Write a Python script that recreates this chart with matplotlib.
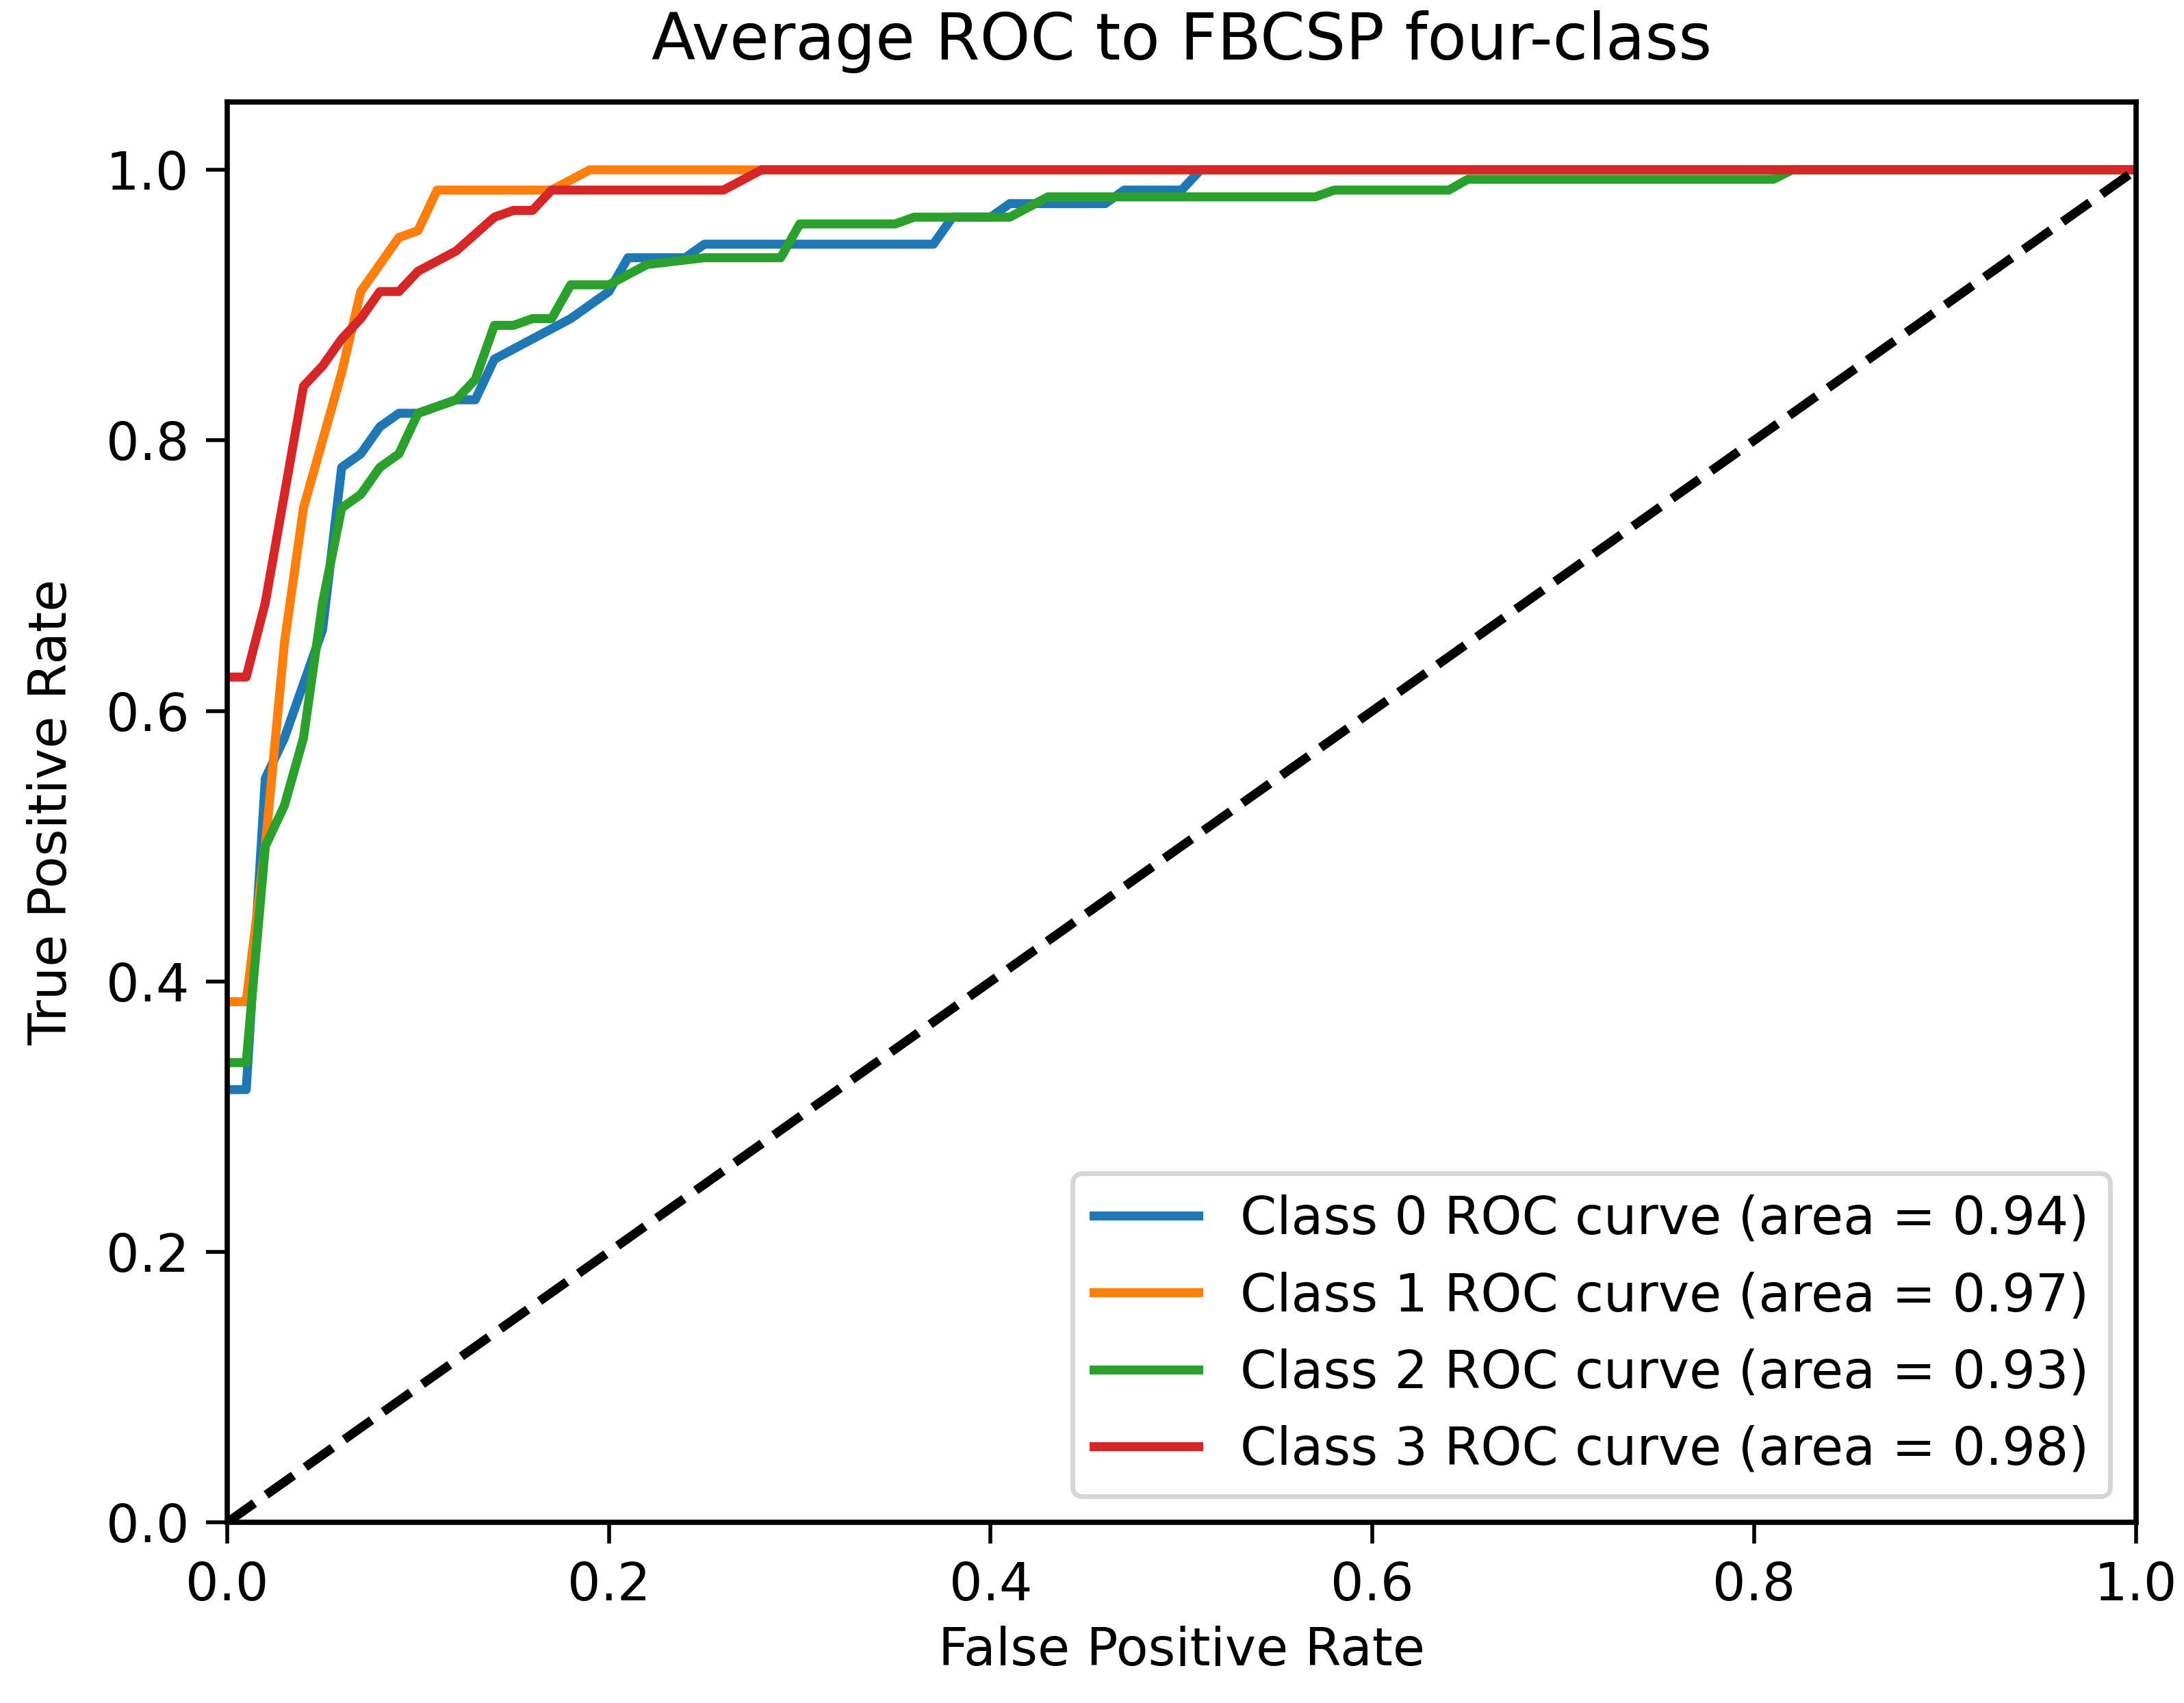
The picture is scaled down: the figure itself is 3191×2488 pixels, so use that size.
import matplotlib
matplotlib.use("Agg")
import matplotlib.pyplot as plt

plt.rcParams["font.size"] = 11
plt.rcParams["xtick.major.size"] = 4.5
plt.rcParams["ytick.major.size"] = 4.5
plt.rcParams["axes.linewidth"] = 1.1

fpr0 = [0,0.01,0.02,0.03,0.05,0.06,0.07,0.08,0.09,0.10,0.12,0.13,0.14,0.16,0.18,0.20,0.21,0.24,0.25,0.37,0.38,0.40,0.41,0.46,0.47,0.50,0.51,1.0]
tpr0 = [0.32,0.32,0.55,0.58,0.66,0.78,0.79,0.81,0.82,0.82,0.83,0.83,0.86,0.875,0.89,0.91,0.935,0.935,0.945,0.945,0.965,0.965,0.975,0.975,0.985,0.985,1.0,1.0]
fpr1 = [0,0.01,0.02,0.03,0.04,0.05,0.06,0.07,0.08,0.09,0.10,0.11,0.17,0.19,1.0]
tpr1 = [0.385,0.385,0.5,0.65,0.75,0.80,0.85,0.91,0.93,0.95,0.955,0.985,0.985,1.0,1.0]
fpr2 = [0,0.01,0.02,0.03,0.04,0.05,0.06,0.07,0.08,0.09,0.10,0.12,0.13,0.14,0.15,0.16,0.17,0.18,0.20,0.22,0.25,0.29,0.30,0.35,0.36,0.41,0.43,0.57,0.58,0.64,0.65,0.81,0.82,1.0]
tpr2 = [0.34,0.34,0.50,0.53,0.58,0.68,0.75,0.76,0.78,0.79,0.82,0.83,0.845,0.885,0.885,0.89,0.89,0.915,0.915,0.93,0.935,0.935,0.96,0.96,0.965,0.965,0.98,0.98,0.985,0.985,0.993,0.993,1.0,1.0]
fpr3 = [0,0.01,0.02,0.03,0.04,0.05,0.06,0.07,0.08,0.09,0.10,0.12,0.14,0.15,0.16,0.17,0.26,0.28,1.0]
tpr3 = [0.625,0.625,0.68,0.76,0.84,0.855,0.875,0.89,0.91,0.91,0.925,0.94,0.965,0.97,0.97,0.985,0.985,1.0,1.0]
aucs = [0.94, 0.97, 0.93, 0.98]
curves = [(fpr0,tpr0),(fpr1,tpr1),(fpr2,tpr2),(fpr3,tpr3)]
colors = ["#1f77b4","#ff7f0e","#2ca02c","#d62728"]

fig = plt.figure(figsize=(6.382, 4.976), dpi=500)
ax = fig.add_axes([0.104, 0.106, 0.874, 0.834])
for i, ((f, t), c) in enumerate(zip(curves, colors)):
    ax.plot(f, t, color=c, lw=1.9, label=f"Class {i} ROC curve (area = {aucs[i]:.2f})")
ax.plot([0,1],[0,1],"k--",lw=1.9)
ax.set_xlim(0,1)
ax.set_ylim(0,1.05)
ax.set_xlabel("False Positive Rate", labelpad=3)
ax.set_ylabel("True Positive Rate", labelpad=6)
ax.set_title("Average ROC to FBCSP four-class", fontsize=13.5, pad=9)
ax.legend(loc="lower right")
fig.savefig("out.png", dpi=500)
